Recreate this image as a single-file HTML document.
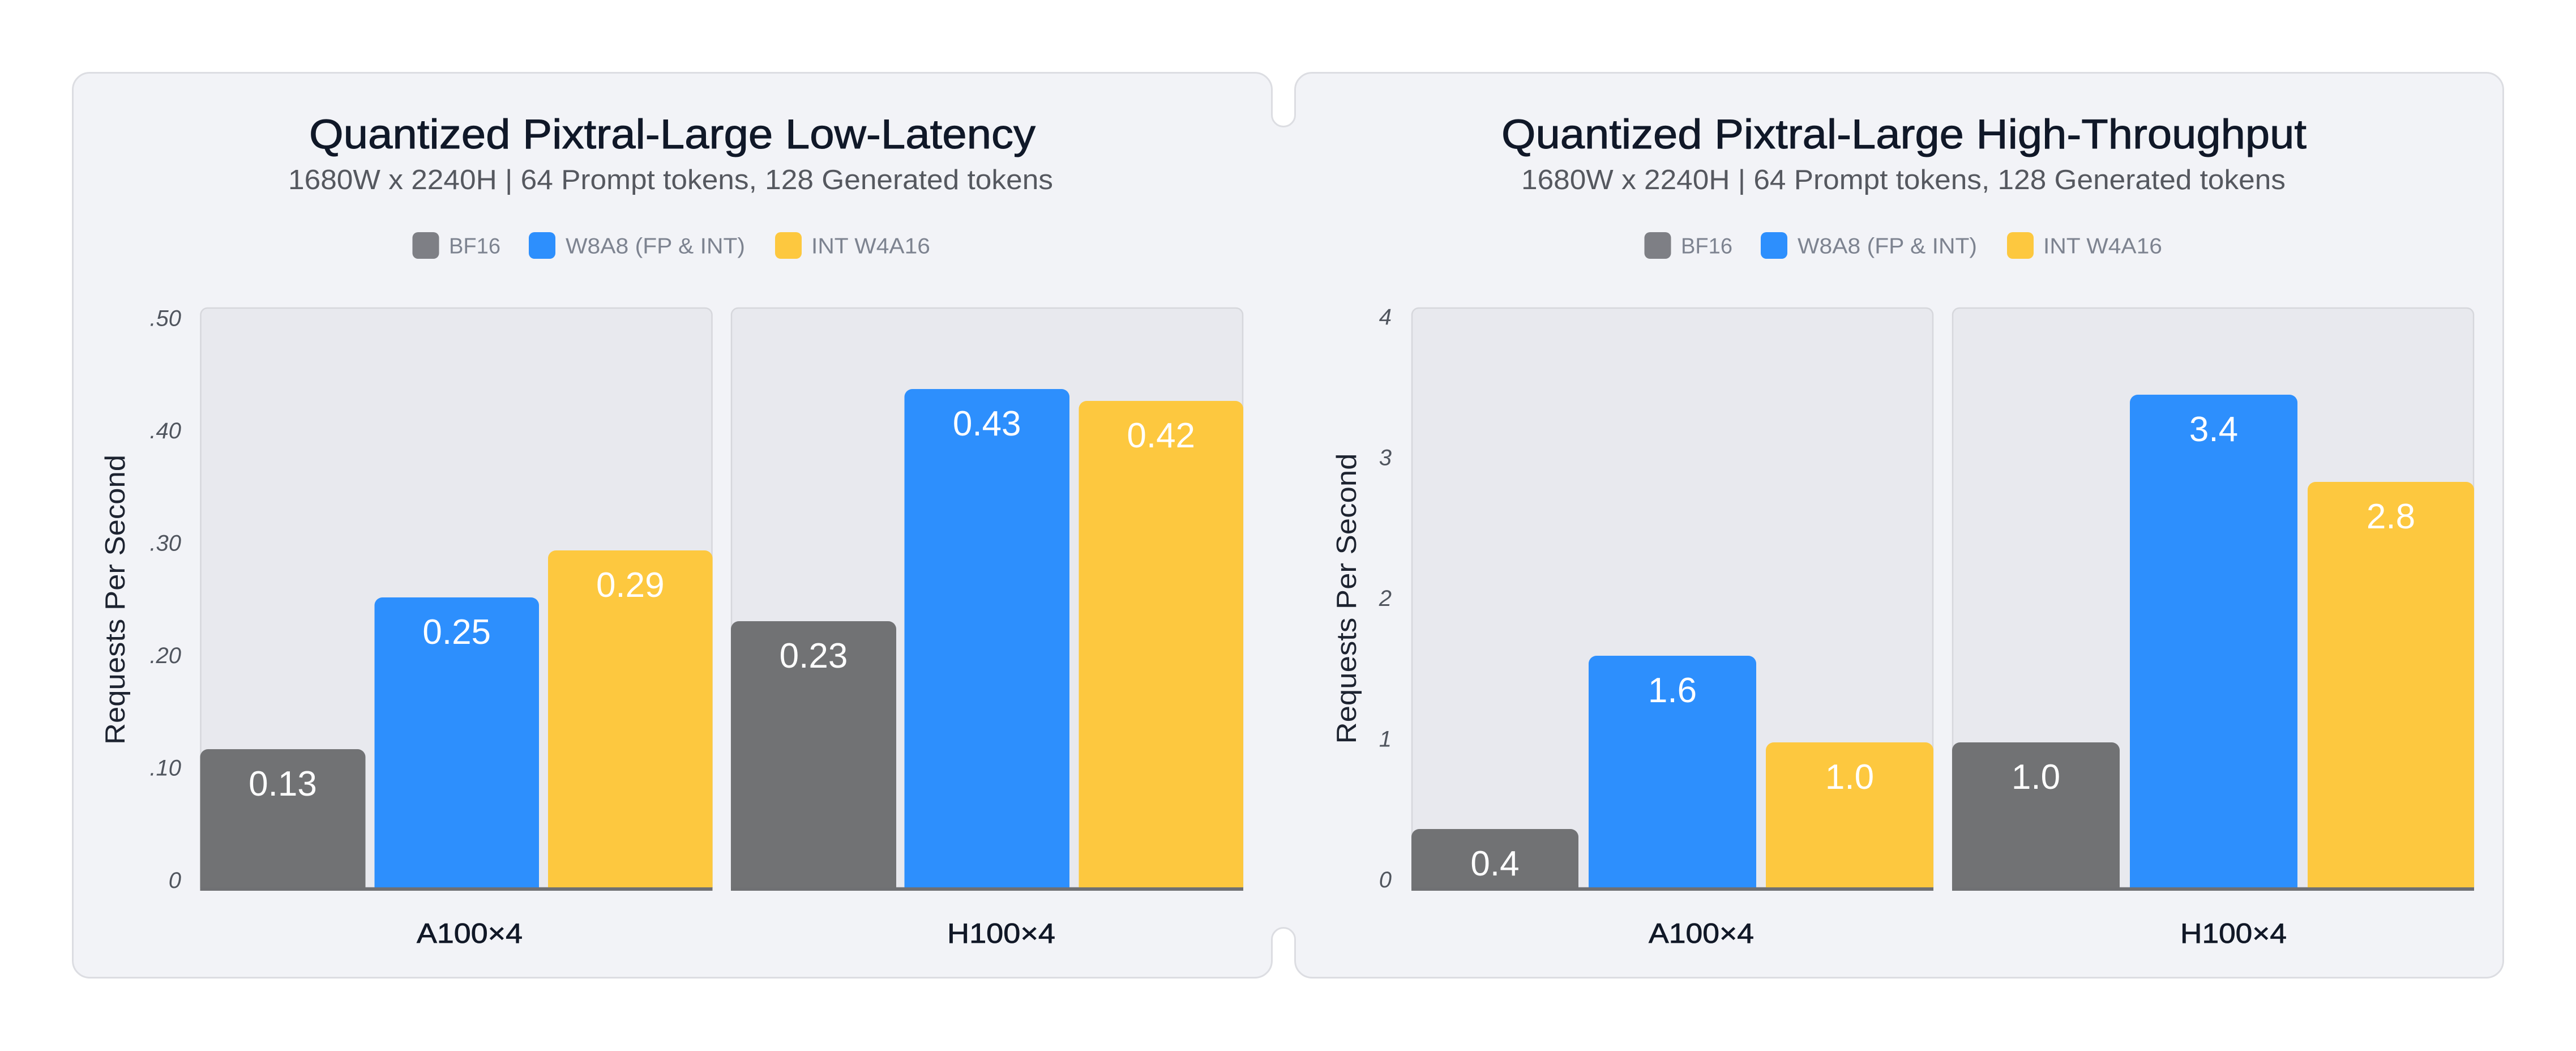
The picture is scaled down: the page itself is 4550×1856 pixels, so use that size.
<!DOCTYPE html>
<html>
<head>
<meta charset="utf-8">
<style>
  html, body { margin: 0; padding: 0; background: #ffffff; }
  body { width: 4550px; height: 1856px; overflow: hidden; }
  svg { display: block; }
  text { font-family: "Liberation Sans", Arial, sans-serif; }
</style>
</head>
<body>
<svg width="4550" height="1856" viewBox="0 0 4550 1856" xmlns="http://www.w3.org/2000/svg">
  <rect x="0" y="0" width="4550" height="1856" fill="#ffffff"/>

  <!-- combined panel background with notches -->
  <path d="M 158.5 128.5 H 2216.5 A 30 30 0 0 1 2246.5 158.5 V 203 A 20.5 20.5 0 0 0 2287.5 203 V 158.5 A 30 30 0 0 1 2317.5 128.5 H 4391.5 A 30 30 0 0 1 4421.5 158.5 V 1696.5 A 30 30 0 0 1 4391.5 1726.5 H 2317.5 A 30 30 0 0 1 2287.5 1696.5 V 1659 A 20.5 20.5 0 0 0 2246.5 1659 V 1696.5 A 30 30 0 0 1 2216.5 1726.5 H 158.5 A 30 30 0 0 1 128.5 1696.5 V 158.5 A 30 30 0 0 1 158.5 128.5 Z"
        fill="#f2f3f7" stroke="#dcdde2" stroke-width="3"/>

  <!-- ================= LEFT CHART ================= -->
  <text x="1187.5" y="262" font-size="73" fill="#101828" stroke="#101828" stroke-width="1" text-anchor="middle" textLength="1283" lengthAdjust="spacingAndGlyphs">Quantized Pixtral-Large Low-Latency</text>
  <text x="1184.5" y="334" font-size="49" fill="#55585f" text-anchor="middle" textLength="1351" lengthAdjust="spacingAndGlyphs">1680W x 2240H | 64 Prompt tokens, 128 Generated tokens</text>

  <!-- legend -->
  <rect x="728.5" y="410" width="47" height="47" rx="10" fill="#7e7f85"/>
  <text x="793" y="447.5" font-size="39" fill="#7d8390" textLength="91" lengthAdjust="spacingAndGlyphs">BF16</text>
  <rect x="934" y="410" width="47" height="47" rx="10" fill="#2d8ffd"/>
  <text x="999" y="447.5" font-size="39" fill="#7d8390" textLength="317" lengthAdjust="spacingAndGlyphs">W8A8 (FP &amp; INT)</text>
  <rect x="1369" y="410" width="47" height="47" rx="10" fill="#fdc83f"/>
  <text x="1433" y="447.5" font-size="39" fill="#7d8390" textLength="210" lengthAdjust="spacingAndGlyphs">INT W4A16</text>

  <!-- y title -->
  <text transform="translate(220,1059) rotate(-90)" x="0" y="0" font-size="49" fill="#1d2330" text-anchor="middle" textLength="512" lengthAdjust="spacingAndGlyphs">Requests Per Second</text>

  <!-- tick labels -->
  <g font-size="40" font-style="italic" fill="#50555e" text-anchor="end">
    <text x="320" y="575.5">.50</text>
    <text x="320" y="774">.40</text>
    <text x="320" y="972.5">.30</text>
    <text x="320" y="1171">.20</text>
    <text x="320" y="1369.5">.10</text>
    <text x="320" y="1568">0</text>
  </g>

  <!-- plot areas -->
  <path d="M 354.5 1567 V 556 A 12 12 0 0 1 366.5 544 H 1245.5 A 12 12 0 0 1 1257.5 556 V 1567 Z" fill="#e8e9ee" stroke="#d6d7dc" stroke-width="2.5"/>
  <path d="M 1292 1567 V 556 A 12 12 0 0 1 1304 544 H 2183 A 12 12 0 0 1 2195 556 V 1567 Z" fill="#e8e9ee" stroke="#d6d7dc" stroke-width="2.5"/>

  <!-- bars group 1 -->
  <path d="M 353.5 1568 V 1337 A 14 14 0 0 1 367.5 1323 H 631.5 A 14 14 0 0 1 645.5 1337 V 1568 Z" fill="#717274"/>
  <path d="M 661.5 1568 V 1069 A 14 14 0 0 1 675.5 1055 H 938 A 14 14 0 0 1 952 1069 V 1568 Z" fill="#2d8ffd"/>
  <path d="M 968 1568 V 986 A 14 14 0 0 1 982 972 H 1244.6 A 14 14 0 0 1 1258.6 986 V 1568 Z" fill="#fdc83f"/>
  <!-- bars group 2 -->
  <path d="M 1291 1568 V 1111 A 14 14 0 0 1 1305 1097 H 1569 A 14 14 0 0 1 1583 1111 V 1568 Z" fill="#717274"/>
  <path d="M 1597.5 1568 V 701 A 14 14 0 0 1 1611.5 687 H 1875 A 14 14 0 0 1 1889 701 V 1568 Z" fill="#2d8ffd"/>
  <path d="M 1905.5 1568 V 722 A 14 14 0 0 1 1919.5 708 H 2182 A 14 14 0 0 1 2196 722 V 1568 Z" fill="#fdc83f"/>

  <!-- baselines -->
  <rect x="353.5" y="1567" width="905" height="6" fill="#6f7073"/>
  <rect x="1291" y="1567" width="905" height="6" fill="#6f7073"/>

  <!-- value labels -->
  <g font-size="62" fill="#ffffff" text-anchor="middle">
    <text x="499.5" y="1405">0.13</text>
    <text x="806.7" y="1137">0.25</text>
    <text x="1113.3" y="1054">0.29</text>
    <text x="1437" y="1179">0.23</text>
    <text x="1743.2" y="769">0.43</text>
    <text x="2050.7" y="790">0.42</text>
  </g>

  <!-- category labels -->
  <text x="829.5" y="1665" font-size="49" fill="#111827" stroke="#111827" stroke-width="0.8" text-anchor="middle" textLength="187" lengthAdjust="spacingAndGlyphs">A100×4</text>
  <text x="1768.5" y="1665" font-size="49" fill="#111827" stroke="#111827" stroke-width="0.8" text-anchor="middle" textLength="191" lengthAdjust="spacingAndGlyphs">H100×4</text>

  <!-- ================= RIGHT CHART ================= -->
  <text x="3363" y="262" font-size="73" fill="#101828" stroke="#101828" stroke-width="1" text-anchor="middle" textLength="1422" lengthAdjust="spacingAndGlyphs">Quantized Pixtral-Large High-Throughput</text>
  <text x="3362" y="334" font-size="49" fill="#55585f" text-anchor="middle" textLength="1350" lengthAdjust="spacingAndGlyphs">1680W x 2240H | 64 Prompt tokens, 128 Generated tokens</text>

  <!-- legend -->
  <rect x="2904.5" y="410" width="47" height="47" rx="10" fill="#7e7f85"/>
  <text x="2969" y="447.5" font-size="39" fill="#7d8390" textLength="91" lengthAdjust="spacingAndGlyphs">BF16</text>
  <rect x="3110" y="410" width="47" height="47" rx="10" fill="#2d8ffd"/>
  <text x="3175" y="447.5" font-size="39" fill="#7d8390" textLength="317" lengthAdjust="spacingAndGlyphs">W8A8 (FP &amp; INT)</text>
  <rect x="3545" y="410" width="47" height="47" rx="10" fill="#fdc83f"/>
  <text x="3609" y="447.5" font-size="39" fill="#7d8390" textLength="210" lengthAdjust="spacingAndGlyphs">INT W4A16</text>

  <!-- y title -->
  <text transform="translate(2395,1057) rotate(-90)" x="0" y="0" font-size="49" fill="#1d2330" text-anchor="middle" textLength="513" lengthAdjust="spacingAndGlyphs">Requests Per Second</text>

  <!-- tick labels -->
  <g font-size="40" font-style="italic" fill="#50555e" text-anchor="end">
    <text x="2458" y="573">4</text>
    <text x="2458" y="821.5">3</text>
    <text x="2458" y="1070">2</text>
    <text x="2458" y="1318.5">1</text>
    <text x="2458" y="1567">0</text>
  </g>

  <!-- plot areas -->
  <path d="M 2494 1567 V 556 A 12 12 0 0 1 2506 544 H 3402 A 12 12 0 0 1 3414 556 V 1567 Z" fill="#e8e9ee" stroke="#d6d7dc" stroke-width="2.5"/>
  <path d="M 3449 1567 V 556 A 12 12 0 0 1 3461 544 H 4357 A 12 12 0 0 1 4369 556 V 1567 Z" fill="#e8e9ee" stroke="#d6d7dc" stroke-width="2.5"/>

  <!-- bars group 1 -->
  <path d="M 2493 1568 V 1478 A 14 14 0 0 1 2507 1464 H 2774 A 14 14 0 0 1 2788 1478 V 1568 Z" fill="#717274"/>
  <path d="M 2806 1568 V 1172 A 14 14 0 0 1 2820 1158 H 3088 A 14 14 0 0 1 3102 1172 V 1568 Z" fill="#2d8ffd"/>
  <path d="M 3119 1568 V 1325 A 14 14 0 0 1 3133 1311 H 3401 A 14 14 0 0 1 3415 1325 V 1568 Z" fill="#fdc83f"/>
  <!-- bars group 2 -->
  <path d="M 3448 1568 V 1325 A 14 14 0 0 1 3462 1311 H 3730 A 14 14 0 0 1 3744 1325 V 1568 Z" fill="#717274"/>
  <path d="M 3762 1568 V 711 A 14 14 0 0 1 3776 697 H 4044 A 14 14 0 0 1 4058 711 V 1568 Z" fill="#2d8ffd"/>
  <path d="M 4076 1568 V 865 A 14 14 0 0 1 4090 851 H 4356 A 14 14 0 0 1 4370 865 V 1568 Z" fill="#fdc83f"/>

  <!-- baselines -->
  <rect x="2493" y="1567" width="922" height="6" fill="#6f7073"/>
  <rect x="3448" y="1567" width="922" height="6" fill="#6f7073"/>

  <!-- value labels -->
  <g font-size="62" fill="#ffffff" text-anchor="middle">
    <text x="2640.5" y="1546">0.4</text>
    <text x="2954" y="1240">1.6</text>
    <text x="3267" y="1393">1.0</text>
    <text x="3596" y="1393">1.0</text>
    <text x="3910" y="779">3.4</text>
    <text x="4223" y="933">2.8</text>
  </g>

  <!-- category labels -->
  <text x="3005" y="1665" font-size="49" fill="#111827" stroke="#111827" stroke-width="0.8" text-anchor="middle" textLength="186" lengthAdjust="spacingAndGlyphs">A100×4</text>
  <text x="3945" y="1665" font-size="49" fill="#111827" stroke="#111827" stroke-width="0.8" text-anchor="middle" textLength="188" lengthAdjust="spacingAndGlyphs">H100×4</text>
</svg>
</body>
</html>
